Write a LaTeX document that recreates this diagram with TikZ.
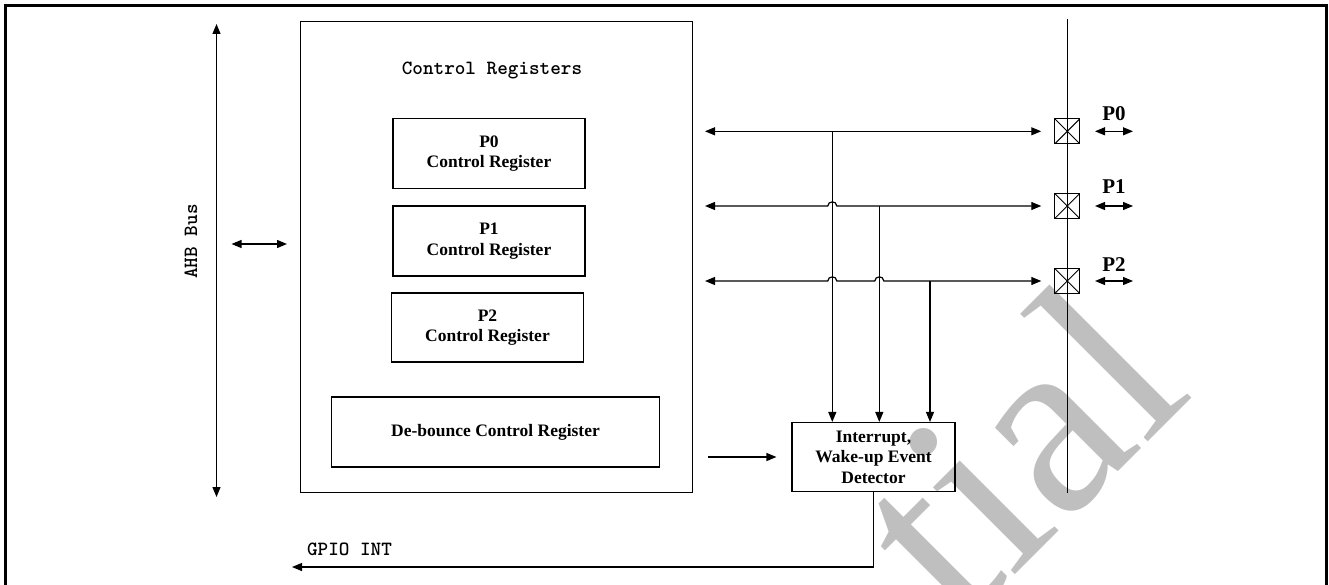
\documentclass[tikz,border=0pt]{standalone}
\usepackage{fontspec}
\setmainfont{Liberation Serif}
\usetikzlibrary{arrows.meta,calc}
\begin{document}
\begin{tikzpicture}[x=1pt,y=-1pt,line width=1.2pt,
  box/.style={draw,line width=1.1pt,inner sep=0pt},
  tip/.style={-{Triangle[length=10pt,width=8pt]}},
  dtip/.style={{Triangle[length=10pt,width=8pt]}-{Triangle[length=10pt,width=8pt]}},
  btxt/.style={font=\bfseries\fontsize{17.5}{20.5}\selectfont,align=center},
  ptxt/.style={font=\bfseries\fontsize{21}{24}\selectfont,inner sep=0pt,anchor=base},
  mono/.style={font=\ttfamily\bfseries\fontsize{20.2}{24}\selectfont,inner sep=0pt},
  pad/.style={draw,line width=1.1pt,minimum size=25pt,inner sep=0pt,
    path picture={\draw[line width=0.9pt] (path picture bounding box.south west) -- (path picture bounding box.north east)
      (path picture bounding box.north west) -- (path picture bounding box.south east);}}]
\useasboundingbox (0,0) rectangle (1329,585);
% watermark (visible part)
\begin{scope}
\clip (0,0) rectangle (1329,585);
\node[text=gray!50,font=\fontsize{260}{260}\selectfont,rotate=45,anchor=base east,inner sep=0pt] (wm) at (1196,394) {tial};
\end{scope}
% outer frame
\draw[line width=2.8pt] (5.3,600) -- (5.3,5.3) -- (1326.5,5.3) -- (1326.5,600);
% AHB bus
\coordinate (ahbT) at (216.5,24);
\coordinate (ahbB) at (216.5,497);
\draw[dtip] (ahbB) -- (ahbT);
\node[mono,rotate=90] (ahbl) at (191,241.5) {AHB Bus};
\coordinate (sa1) at (231.5,244);
\coordinate (sa2) at (287,244);
\draw[dtip] (sa1) -- (sa2);
% control registers
\node[box,minimum width=392pt,minimum height=470.5pt] (ctrl) at (496.5,257) {};
\node[mono] (title) at (492,70) {Control Registers};
\node[box,btxt,minimum width=192pt,minimum height=70pt] (p0) at (489,153.5) {P0\\Control Register};
\node[box,btxt,minimum width=192pt,minimum height=70pt] (p1) at (489,241) {P1\\Control Register};
\node[box,btxt,minimum width=192pt,minimum height=69pt] (p2) at (487.5,327.5) {P2\\Control Register};
\node[box,btxt,minimum width=328pt,minimum height=70pt] (deb) at (495.5,432) {De-bounce Control Register};
% detector
\node[box,btxt,minimum width=163pt,minimum height=69pt] (det) at (873.5,457) {Interrupt,\\Wake-up Event\\Detector};
% pin line and pads
\coordinate (pinT) at (1067.3,19);
\coordinate (pinB) at (1067.3,492.5);
\draw (pinT) -- (pinB);
\node[pad] (pad0) at (1067.3,131.3) {};
\node[pad] (pad1) at (1067.3,206) {};
\node[pad] (pad2) at (1067.3,281) {};
\node[ptxt] (pl0) at (1114,121) {P0};
\node[ptxt] (pl1) at (1114,194) {P1};
\node[ptxt] (pl2) at (1114,271) {P2};
\foreach \i/\y in {0/131.3,1/206,2/281}{
  \coordinate (pa\i) at (1095,\y);
  \coordinate (pb\i) at (1133,\y);
  \draw[dtip] (pa\i) -- (pb\i);
}
% bus lines
\coordinate (bl0) at (705,131.3);
\coordinate (bl1) at (705,206);
\coordinate (bl2) at (705,281);
\coordinate (j0) at (832.3,131.3);
\coordinate (j1) at (879.3,206);
\coordinate (j2) at (930,281);
\draw[dtip,shorten >=13pt] (bl0) -- (pad0.west);
\draw[dtip,shorten >=13pt] (bl1) -- ($(j0|-bl1)+(-4.5,0)$) .. controls ($(j0|-bl1)+(-4.5,-5.5)$) and ($(j0|-bl1)+(4.5,-5.5)$) .. ($(j0|-bl1)+(4.5,0)$) -- (pad1.west);
\draw[dtip,shorten >=13pt] (bl2) -- ($(j0|-bl2)+(-4.5,0)$) .. controls ($(j0|-bl2)+(-4.5,-5.5)$) and ($(j0|-bl2)+(4.5,-5.5)$) .. ($(j0|-bl2)+(4.5,0)$)
  -- ($(j1|-bl2)+(-4.5,0)$) .. controls ($(j1|-bl2)+(-4.5,-5.5)$) and ($(j1|-bl2)+(4.5,-5.5)$) .. ($(j1|-bl2)+(4.5,0)$) -- (pad2.west);
\draw[tip] (j0) -- (j0|-det.north);
\draw[tip] (j1) -- (j1|-det.north);
\draw[tip] (j2) -- (j2|-det.north);
% debounce to detector
\coordinate (dbA) at (708,457);
\draw[tip,shorten >=15pt] (dbA) -- (det.west);
% GPIO INT
\coordinate (gpioE) at (292,567);
\draw[tip] (det.south) |- (gpioE);
\node[mono] (gpiol) at (349.5,549.5) {GPIO INT};
\end{tikzpicture}
\end{document}
